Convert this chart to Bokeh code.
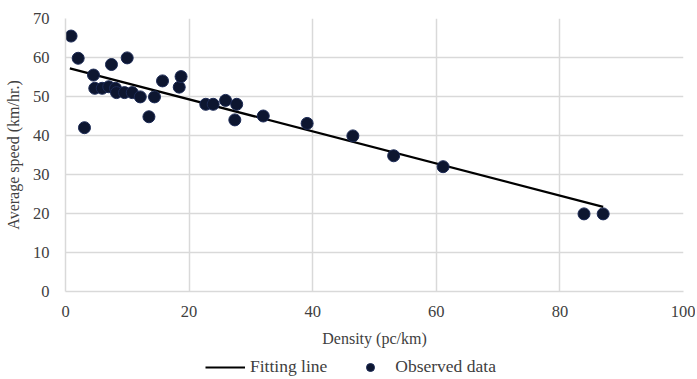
from bokeh.plotting import figure
from bokeh.layouts import column
from bokeh.models import Range1d, FixedTicker, Legend, LegendItem
from bokeh.embed import file_html
from bokeh.resources import INLINE

density = [0.9, 2.05, 3.07, 4.53, 4.74, 5.94, 7.0, 7.44, 8.09, 8.25, 9.55, 9.98,
           10.8, 12.1, 13.5, 14.4, 15.7, 18.4, 18.7, 22.7, 23.9, 25.9, 27.7, 27.4,
           32.0, 39.1, 46.5, 53.1, 61.1, 83.9, 87.0]
speed = [65.5, 59.8, 42.0, 55.5, 52.1, 52.1, 52.5, 58.2, 52.1, 51.0, 51.0, 59.9,
         51.0, 49.9, 44.8, 49.9, 54.0, 52.4, 55.1, 48.0, 48.0, 49.0, 48.0, 44.0,
         45.0, 43.1, 39.9, 34.8, 32.0, 19.9, 19.9]
fit_x = [0.7, 87.0]
fit_y = [57.2, 21.7]
x_ticks = [0, 20, 40, 60, 80, 100]
y_ticks = [0, 10, 20, 30, 40, 50, 60, 70]
legend_labels = ["Fitting line", "Observed data"]

FONT = "Liberation Serif"
GRID = "#d9d9d9"
TXT = "#404040"
LINE_STYLE = dict(line_color="black", line_width=2.2)
PT_STYLE = dict(fill_color="#0d1630", line_color="#1c2a55", line_width=1)

p = figure(frame_width=618, frame_height=273, output_backend="svg", toolbar_location=None,
           x_range=Range1d(0, 100), y_range=Range1d(0, 70),
           min_border_left=65, min_border_right=12, min_border_top=18, min_border_bottom=2)
p.outline_line_color = None

p.line(fit_x, fit_y, **LINE_STYLE)
p.scatter(density, speed, size=12, **PT_STYLE)

for ax in (p.xaxis[0], p.yaxis[0]):
    ax.major_tick_line_color = None
    ax.minor_tick_line_color = None
    ax.axis_line_color = GRID
    ax.axis_line_width = 1.5
    ax.major_label_text_font = FONT
    ax.major_label_text_font_size = "16.5px"
    ax.major_label_text_color = TXT
    ax.axis_label_text_font = FONT
    ax.axis_label_text_font_size = "16px"
    ax.axis_label_text_font_style = "normal"
    ax.axis_label_text_color = TXT

p.xaxis.ticker = FixedTicker(ticks=x_ticks)
p.yaxis.ticker = FixedTicker(ticks=y_ticks)
p.xaxis.axis_label = "Density (pc/km)"
p.yaxis.axis_label = "Average speed (km/hr.)"
p.xaxis.major_label_standoff = 8
p.yaxis.major_label_standoff = 10
p.xaxis.axis_label_standoff = 10
p.yaxis.axis_label_standoff = 8

p.xgrid.ticker = FixedTicker(ticks=x_ticks)
p.ygrid.ticker = FixedTicker(ticks=y_ticks)
p.xgrid.grid_line_color = GRID
p.ygrid.grid_line_color = GRID
p.xgrid.grid_line_width = 1.5
p.ygrid.grid_line_width = 1.5

# legend strip below the chart (renderers hold off-view points; only their legend glyphs show)
lg = figure(width=695, height=30, output_backend="svg", toolbar_location=None,
            x_axis_type=None, y_axis_type=None, x_range=Range1d(0, 1), y_range=Range1d(0, 1),
            min_border=0)
lg.outline_line_color = None
lg.grid.visible = False
lr = lg.line([-5, -4], [-5, -5], **LINE_STYLE)
sr = lg.scatter([-5], [-5], size=9, **PT_STYLE)
legend = Legend(items=[LegendItem(label=legend_labels[0], renderers=[lr]),
                       LegendItem(label=legend_labels[1], renderers=[sr])],
                orientation="horizontal", location=(140, 2),
                label_text_font=FONT, label_text_font_size="17.5px",
                label_text_color=TXT, border_line_color=None,
                background_fill_alpha=0,
                glyph_width=40, glyph_height=20, label_standoff=5, spacing=23,
                padding=2, margin=0)
lg.add_layout(legend, "center")

layout = column(p, lg, spacing=0)
open("out.html", "w").write(file_html(layout, INLINE))
